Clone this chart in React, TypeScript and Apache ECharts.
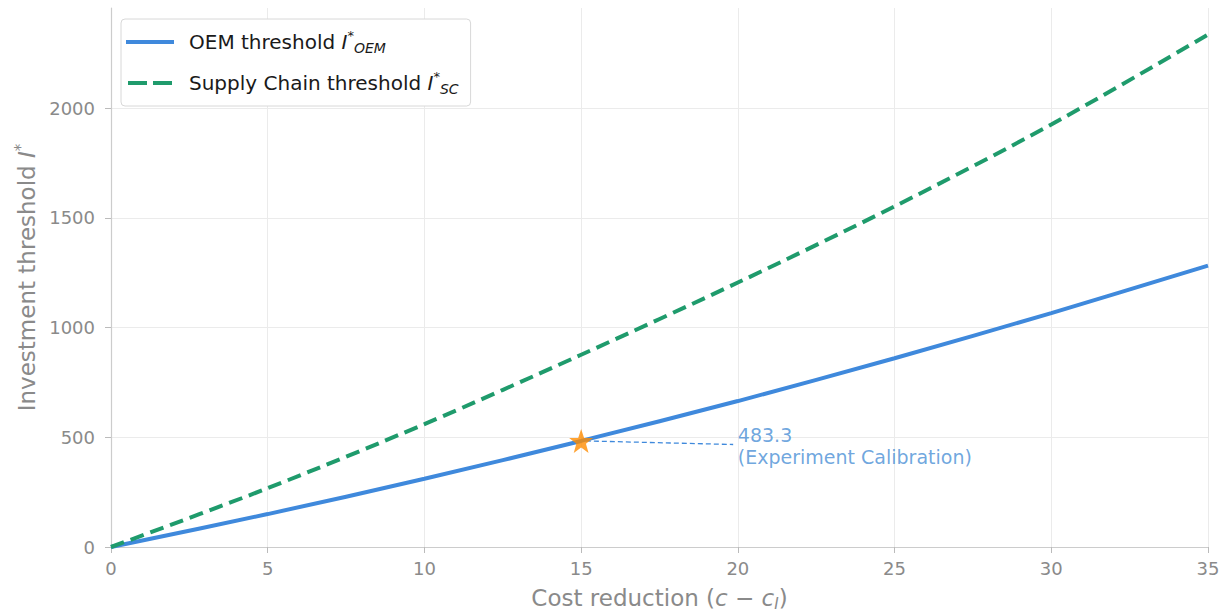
import React, { useEffect, useRef } from "react";
import * as echarts from "echarts";

const xValues = [0, 5, 10, 15, 20, 25, 30, 35];
const oemValues = [0, 150, 311, 483.3, 665, 860, 1066, 1282];
const scValues = [0, 268, 560, 876, 1205, 1552, 1925, 2335];
const calibX = 15;
const calibY = 483.3;
const calibLabel = "483.3";
const calibNote = "(Experiment Calibration)";
const noteX = 20;
const noteY = 461;
const yTicks = [0, 500, 1000, 1500, 2000];
const xTicks = [0, 5, 10, 15, 20, 25, 30, 35];

const BLUE = "#3f89dc";
const GREEN = "#1f9b6c";
const ORANGE = "#ff8c00";
const GRAY = "#8a8a8a";
const FONT = "DejaVu Sans";

const STAR =
  "path://M0,-10 L2.35,-3.24 L9.51,-3.09 L3.8,1.24 L5.88,8.09 L0,4 L-5.88,8.09 L-3.8,1.24 L-9.51,-3.09 L-2.35,-3.24 Z";
const SOLID_ICON = "path://M0,0 H48 V4 H0 Z";
const DASH_ICON = "path://M0,0 H19 V4 H0 Z M25,0 H44 V4 H25 Z";

export default function App() {
  const ref = useRef<HTMLDivElement>(null);
  useEffect(() => {
    if (!ref.current) return;
    const chart = echarts.init(ref.current, undefined, { renderer: "svg" });
    const oemData = xValues.map((x, i) => [x, oemValues[i]]);
    const scData = xValues.map((x, i) => [x, scValues[i]]);
    const legendRich = {
      pad: { width: 10, fontSize: 20, lineHeight: 26 },
      n: { fontSize: 20, fontFamily: FONT, color: "#1a1a1a", lineHeight: 26 },
      i: { fontSize: 20, fontFamily: FONT, fontStyle: "italic", color: "#1a1a1a", lineHeight: 26 },
      sup: { fontSize: 13, fontFamily: FONT, color: "#1a1a1a", verticalAlign: "top", lineHeight: 26, padding: [0, 0, 10, 0] },
      sub: { fontSize: 14, fontFamily: FONT, fontStyle: "italic", color: "#1a1a1a", verticalAlign: "bottom", lineHeight: 26, padding: [9, 0, 0, 0] },
    };
    const titleRich = {
      n: { fontSize: 23, fontFamily: FONT, color: GRAY },
      i: { fontSize: 23, fontFamily: FONT, color: GRAY, fontStyle: "italic" },
      sub: { fontSize: 15, fontFamily: FONT, color: GRAY, fontStyle: "italic", verticalAlign: "bottom", padding: [11, 0, 0, 0] },
      sup: { fontSize: 15, fontFamily: FONT, color: GRAY, verticalAlign: "top", padding: [0, 0, 11, 0] },
    };
    chart.setOption({
      animation: false,
      grid: { left: 111, right: 18, top: 8, bottom: 66, containLabel: false },
      legend: {
        orient: "vertical",
        left: 121,
        top: 19,
        padding: [10, 12, 10, 5],
        itemWidth: 48,
        itemHeight: 4,
        itemGap: 15,
        backgroundColor: "#ffffff",
        borderColor: "#d8d8d8",
        borderWidth: 1,
        borderRadius: 4,
        data: [
          { name: "OEM", icon: SOLID_ICON, itemStyle: { color: BLUE } },
          { name: "SC", icon: DASH_ICON, itemStyle: { color: GREEN } },
        ],
        formatter: (name: string) =>
          name === "OEM"
            ? "{pad| }{n|OEM threshold }{i|I}{sup|*}{sub|OEM}"
            : "{pad| }{n|Supply Chain threshold }{i|I}{sup|*}{sub|SC}",
        textStyle: { fontSize: 20, fontFamily: FONT, color: "#1a1a1a", rich: legendRich },
      },
      xAxis: {
        type: "value",
        min: 0,
        max: 35,
        interval: 5,
        name: "{n|Cost reduction (}{i|c − c}{sub|I}{n|)}",
        nameLocation: "middle",
        nameGap: 38,
        nameTextStyle: { rich: titleRich },
        axisLine: { show: true, lineStyle: { color: "#cccccc", width: 1.2 } },
        axisTick: { show: true, length: 6, lineStyle: { color: "#bbbbbb" }, customValues: xTicks },
        axisLabel: { color: GRAY, fontSize: 18, fontFamily: FONT, margin: 12, customValues: xTicks },
        splitLine: { show: true, lineStyle: { color: "#ebebeb", width: 1 } },
      },
      yAxis: {
        type: "value",
        min: 0,
        max: 2456,
        interval: 500,
        name: "{n|Investment threshold }{i|I}{sup|*}",
        nameLocation: "middle",
        nameGap: 70,
        nameRotate: 90,
        nameTextStyle: { rich: titleRich },
        axisLine: { show: true, lineStyle: { color: "#cccccc", width: 1.2 } },
        axisTick: { show: true, length: 6, lineStyle: { color: "#bbbbbb" }, customValues: yTicks },
        axisLabel: {
          color: GRAY,
          fontSize: 18,
          fontFamily: FONT,
          margin: 16,
          customValues: yTicks,
          formatter: (v: number) => String(v),
        },
        splitLine: { show: true, lineStyle: { color: "#ebebeb", width: 1 } },
      },
      series: [
        {
          name: "OEM",
          type: "line",
          data: oemData,
          smooth: 0.3,
          showSymbol: false,
          symbol: "none",
          lineStyle: { color: BLUE, width: 4 },
          itemStyle: { color: BLUE },
          z: 3,
          silent: true,
        },
        {
          name: "SC",
          type: "line",
          data: scData,
          smooth: 0.3,
          showSymbol: false,
          symbol: "none",
          lineStyle: { color: GREEN, width: 4, type: [14, 7] },
          itemStyle: { color: GREEN },
          z: 3,
          silent: true,
        },
        {
          name: "annotLine",
          type: "line",
          data: [
            [calibX + 0.15, calibY],
            [noteX - 0.15, noteY + 6],
          ],
          showSymbol: false,
          symbol: "none",
          lineStyle: { color: BLUE, width: 1.3, type: [5, 3] },
          z: 4,
          silent: true,
        },
        {
          name: "star",
          type: "scatter",
          data: [[calibX, calibY]],
          symbol: STAR,
          symbolSize: 24,
          itemStyle: { color: ORANGE },
          z: 6,
          silent: true,
        },
        {
          name: "note",
          type: "scatter",
          data: [[noteX, noteY]],
          symbolSize: 0,
          itemStyle: { color: "transparent" },
          label: {
            show: true,
            position: "right",
            distance: 0,
            formatter: calibLabel + "\n" + calibNote,
            color: "#4a8fd6",
            fontSize: 19,
            fontFamily: FONT,
            lineHeight: 22,
            align: "left",
          },
          z: 6,
          silent: true,
        },
      ],
    });
    return () => chart.dispose();
  }, []);
  return (
    <div
      ref={ref}
      style={{ position: "fixed", left: 0, top: 0, width: 1226, height: 616, background: "#fff" }}
    />
  );
}
